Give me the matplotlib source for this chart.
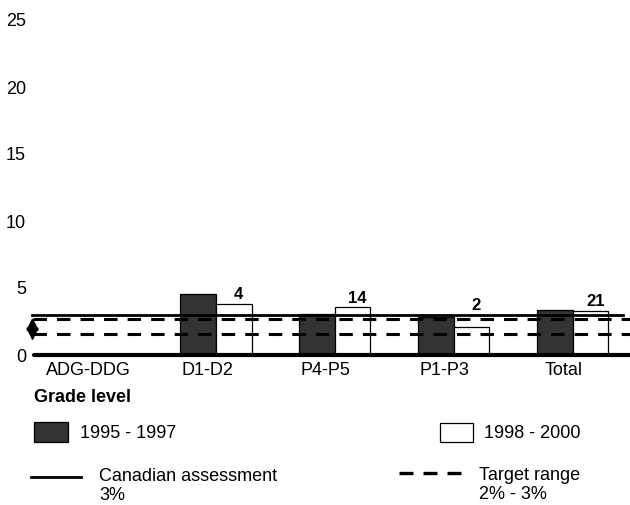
import numpy as np
import matplotlib
matplotlib.use("Agg")
import matplotlib.pyplot as plt
from matplotlib.patches import Rectangle
from matplotlib.lines import Line2D

plt.rcParams["font.family"] = ["Liberation Sans", "DejaVu Sans"]

# data
categories = ["ADG-DDG", "D1-D2", "P4-P5", "P1-P3", "Total"]
rate_1995_1997 = [np.nan, 4.55, 3.05, 2.8, 3.33]
rate_1998_2000 = [np.nan, 3.8, 3.55, 2.1, 3.28]
counts = ["", "4", "14", "2", "21"]
canadian_assessment = 3.0
target_low, target_high = 1.55, 2.7
yticks = [0, 5, 10, 15, 20, 25]

W, H = 630, 505
fig = plt.figure(figsize=(6.3, 5.05), dpi=100, facecolor="w")
ax = fig.add_axes([33 / W, 1 - 355 / H, 597 / W, 335 / H])

x = np.arange(len(categories))
bw = 0.3
ax.bar(x - bw, rate_1995_1997, width=bw, align="edge", color="#333333",
       edgecolor="k", lw=0.9, zorder=2)
ax.bar(x, rate_1998_2000, width=bw, align="edge", color="w",
       edgecolor="k", lw=0.9, zorder=2)

for xi, v, c in zip(x, rate_1998_2000, counts):
    if c:
        ax.text(xi + bw / 2 + 0.04, max(v, canadian_assessment) + 0.7, c,
                ha="center", va="center", fontsize=12, fontweight="bold")

x0, x1 = -0.538, 4.483
ax.plot([x0 - 0.008, 4.425], [canadian_assessment] * 2, color="k", lw=2,
        zorder=3, clip_on=False)
for yv in (target_high, target_low):
    ax.plot([x0, x1], [yv, yv], color="k", lw=2.2, ls=(0, (4.4, 3.3)),
            dash_capstyle="butt", zorder=3, clip_on=False)
ax.plot([x0 + 0.01, x1], [0, 0], color="k", lw=3, solid_capstyle="round",
        zorder=4, clip_on=False)

# double arrow marking the target range
ax.annotate("", xy=(x0 - 0.004, 1.07), xytext=(x0 - 0.004, 2.78),
            arrowprops=dict(arrowstyle="<|-|>", color="k", lw=1.2,
                            mutation_scale=19, shrinkA=0, shrinkB=0),
            annotation_clip=False, zorder=5)

ax.set_xlim(x0, x1)
ax.set_ylim(0, 25)
ax.set_yticks(yticks)
ax.set_xticks(x - 0.075, categories)
ax.tick_params(axis="both", length=0, labelsize=13)
ax.tick_params(axis="y", pad=5)
ax.tick_params(axis="x", pad=5)
for s in ax.spines.values():
    s.set_visible(False)

# legend
def fx(px):
    return px / W

def fy(py):
    return 1 - py / H

fig.text(fx(34), fy(398), "Grade level", fontsize=13, fontweight="bold",
         ha="left", va="center")
fig.add_artist(Rectangle((fx(33.5), fy(441.7)), fx(34), 20 / H, facecolor="#333333",
                         edgecolor="k", lw=0.9, transform=fig.transFigure))
fig.text(fx(80), fy(433), "1995 - 1997", fontsize=13, ha="left", va="center")
fig.add_artist(Rectangle((fx(439.5), fy(441.7)), fx(33), 19 / H, facecolor="w",
                         edgecolor="k", lw=0.9, transform=fig.transFigure))
fig.text(fx(484), fy(433), "1998 - 2000", fontsize=13, ha="left", va="center")

fig.add_artist(Line2D([fx(31), fx(81)], [fy(476.5)] * 2, color="k", lw=2,
                      transform=fig.transFigure))
fig.text(fx(99), fy(486), "Canadian assessment\n3%", fontsize=13, ha="left",
         va="center", linespacing=1.15)
fig.add_artist(Line2D([fx(399), fx(462)], [fy(473)] * 2, color="k", lw=2.4,
                      ls=(0, (4.2, 3.0)), dash_capstyle="butt",
                      transform=fig.transFigure))
fig.text(fx(479), fy(485), "Target range\n2% - 3%", fontsize=13, ha="left",
         va="center", linespacing=1.15)

plt.savefig("out.png", dpi=100, facecolor="w")
